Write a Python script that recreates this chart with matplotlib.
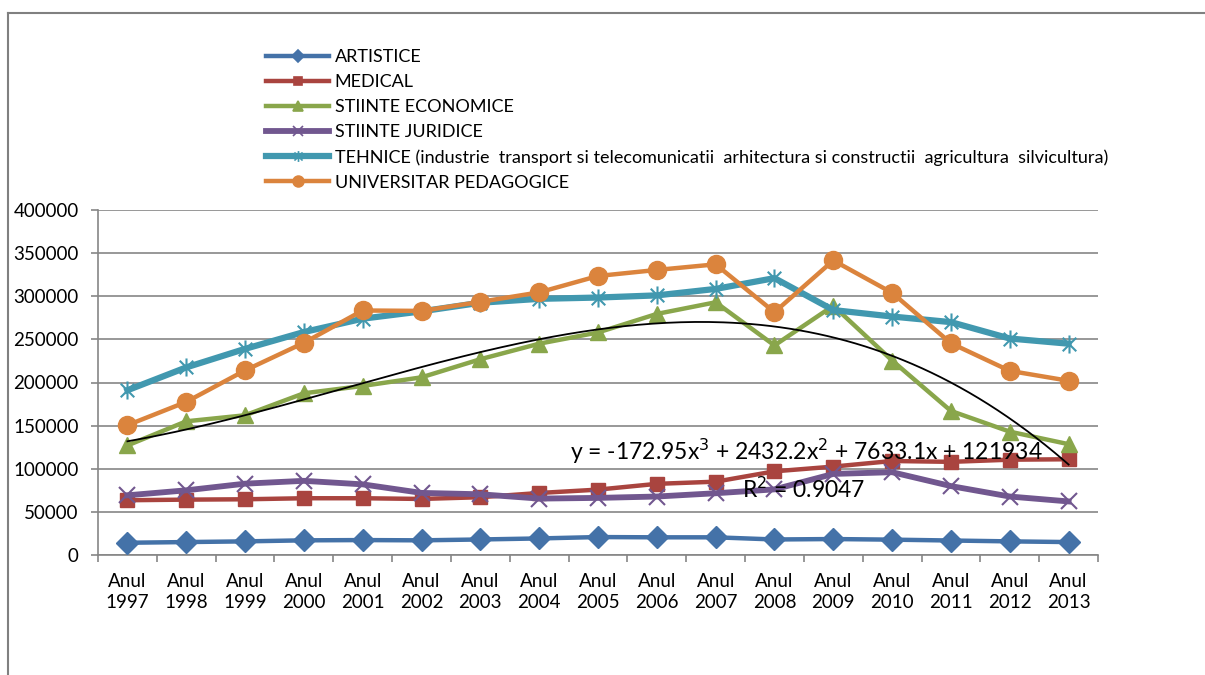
"""Numar studenti pe profiluri, 1997-2013 (line chart with cubic trendline)."""
import numpy as np
import matplotlib
matplotlib.use("Agg")
import matplotlib.pyplot as plt
from matplotlib.path import Path
from matplotlib.lines import Line2D

plt.rcParams["font.family"] = ["Lato", "DejaVu Sans"]

years = ["Anul\n%d" % y for y in range(1997, 2014)]

artistice = [14200, 15000, 15800, 17000, 17300, 17000, 18000, 19200, 20800,
             20500, 20500, 18000, 18500, 17800, 16800, 15800, 15000]
medical = [63500, 64200, 64600, 65800, 65800, 65000, 67000, 71900, 75800,
           82500, 85000, 97000, 102500, 109000, 108000, 110500, 111000]
economice = [127000, 155000, 162000, 187500, 196000, 206000, 227000, 245000, 258000,
             279500, 293000, 243000, 289000, 225500, 167000, 143000, 128500]
juridice = [69200, 75000, 82700, 86000, 81900, 72000, 70400, 65400, 66200,
            67800, 71600, 76100, 94000, 96000, 79900, 67800, 62100]
tehnice = [191000, 217500, 239000, 258500, 274000, 282500, 292500, 297000, 298500,
           301000, 308500, 321000, 284000, 276500, 270000, 251000, 245000]
pedagogice = [150500, 177500, 214000, 246000, 283500, 283000, 293500, 304500, 323500,
              330500, 337000, 281500, 341500, 304000, 245500, 213500, 202000]

labels = ["ARTISTICE", "MEDICAL", "STIINTE ECONOMICE", "STIINTE JURIDICE",
          "TEHNICE (industrie  transport si telecomunicatii  arhitectura si constructii  agricultura  silvicultura)",
          "UNIVERSITAR PEDAGOGICE"]

# cubic trendline as printed on the chart (x = 1..17)
trend_coef = [-172.95, 2432.2, 7633.1, 121934]
eq_text = "y = -172.95x$^3$ + 2432.2x$^2$ + 7633.1x + 121934"
r2_text = "R$^2$ = 0.9047"

asterisk = Path([(0, -1), (0, 1), (-0.75, -0.75), (0.75, 0.75), (-0.75, 0.75), (0.75, -0.75)],
                [Path.MOVETO, Path.LINETO, Path.MOVETO, Path.LINETO, Path.MOVETO, Path.LINETO])

styles = [
    ("#4472A8", "D", 11, 3.2),
    ("#A9443F", "s", 10.5, 3.2),
    ("#89A64B", "^", 11.5, 3.2),
    ("#71578F", "x", 12, 4.2),
    ("#4198AF", asterisk, 13, 4.5),
    ("#DB843D", "o", 13, 3.2),
]

fig = plt.figure(figsize=(12.05, 6.75), dpi=100)
ax = fig.add_axes([98 / 1205, 1 - 555 / 675, 1000 / 1205, 345 / 675])

x = np.arange(len(years))
series = [artistice, medical, economice, juridice, tehnice, pedagogice]
handles = []
for vals, lab, (col, mk, ms, lw) in zip(series, labels, styles):
    mfc = "none" if mk in ("x",) or mk is asterisk else col
    ax.plot(x, vals, color=col, lw=lw, marker=mk, ms=ms, mfc=mfc, mec=col,
            mew=1.5 if mfc == "none" else 1, zorder=3, solid_joinstyle="round")
    handles.append(Line2D([], [], color=col, lw=lw, marker=mk, ms=ms * 0.6,
                          mfc=mfc, mec=col, mew=1.2, label=lab))

# smooth trend curve from the printed equation
xs = np.linspace(1, len(years), 200)
ax.plot(xs - 1, np.polyval(trend_coef, xs), color="black", lw=1.3, zorder=4)

ax.text(0.945, 0.30, eq_text, transform=ax.transAxes, ha="right", va="center",
        fontsize=16.5, zorder=6)
ax.text(0.706, 0.19, r2_text, transform=ax.transAxes, ha="center", va="center",
        fontsize=16.5, zorder=6)

ax.set_xlim(-0.5, len(years) - 0.5)
ax.set_ylim(0, 400000)
ax.set_yticks(np.arange(0, 400001, 50000))
ax.set_xticks(x)
ax.set_xticklabels(years, fontsize=13.5, linespacing=1.3)
ax.set_xticks(np.arange(-0.5, len(years)), minor=True)
ax.tick_params(axis="x", which="major", length=0, pad=13)
ax.tick_params(axis="x", which="minor", length=5, color="#868686", width=1.2)
ax.tick_params(axis="y", length=5, color="#868686", width=1.2, labelsize=13.5, pad=9)
ax.grid(axis="y", color="#868686", lw=1.2)
ax.set_axisbelow(True)
for s in ("top", "right"):
    ax.spines[s].set_visible(False)
for s in ("left", "bottom"):
    ax.spines[s].set_color("#868686")
    ax.spines[s].set_linewidth(1.2)

fig.legend(handles=handles, loc="upper left", bbox_to_anchor=(266 / 1205, 1 - 49 / 675),
           frameon=False, fontsize=13, handlelength=3.5, labelspacing=0.5,
           handletextpad=0.3, borderpad=0, borderaxespad=0)

# chart-area frame (left and top edges visible)
fig.add_artist(Line2D([8 / 1205, 8 / 1205], [0, 1 - 13 / 675], transform=fig.transFigure,
                      color="#808080", lw=1.5))
fig.add_artist(Line2D([8 / 1205, 1], [1 - 13 / 675, 1 - 13 / 675], transform=fig.transFigure,
                      color="#808080", lw=1.5))

fig.savefig("out.png", dpi=100)
